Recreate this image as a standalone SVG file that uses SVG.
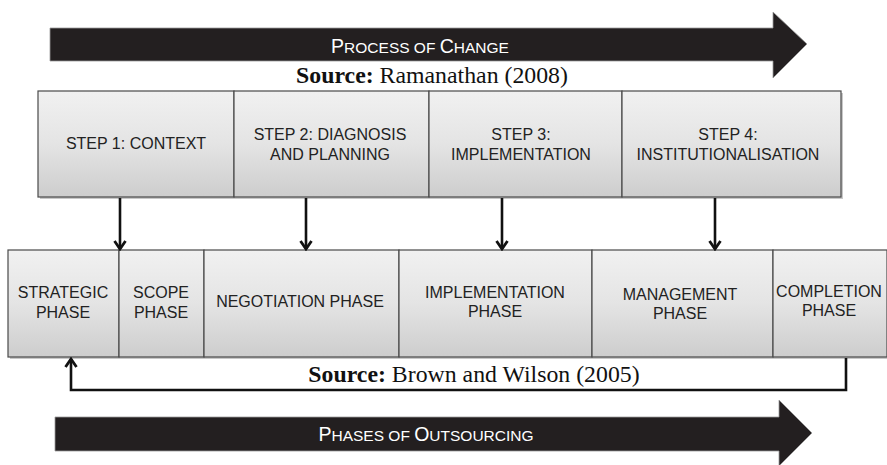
<svg xmlns="http://www.w3.org/2000/svg" width="887" height="465" viewBox="0 0 887 465">
<style>
.box{fill:url(#g);stroke:#4a4a4a;stroke-width:1.2}
.shadow{fill:#c8c8c8}
.lbl{font-family:"Liberation Sans",Arial,sans-serif;font-size:16px;fill:#222;text-anchor:middle}
.src{font-family:"Liberation Serif","Times New Roman",serif;font-size:23.8px;fill:#111;text-anchor:middle}
.big{fill:#231f20;stroke:#999;stroke-width:0.8}
.bt{font-family:"Liberation Sans",Arial,sans-serif;fill:#fff;text-anchor:middle;font-size:15.5px}
.conn{fill:none;stroke:#111;stroke-width:2.6}
</style>
<defs>
<linearGradient id="g" x1="0" y1="0" x2="0" y2="1">
<stop offset="0" stop-color="#f1f1f1"/>
<stop offset="0.5" stop-color="#e4e4e4"/>
<stop offset="1" stop-color="#cdcdcd"/>
</linearGradient>
<marker id="ah" markerWidth="14" markerHeight="14" viewBox="0 0 14 14" refX="12" refY="7" orient="auto" markerUnits="userSpaceOnUse">
<path d="M4,1.5 L12,7 L4,12.5" fill="none" stroke="#111" stroke-width="2.8"/>
</marker>
</defs>

<g id="process-arrow">
<path class="big" d="M50,28 L773,28 L773,12 L807,44 L773,78 L773,61 L50,61 Z"/>
<text class="bt" x="420" y="53"><tspan font-size="19.5">P</tspan>ROCESS OF <tspan font-size="19.5">C</tspan>HANGE</text>
</g>

<g id="source-ramanathan">
<text class="src" x="432" y="83"><tspan font-weight="bold">Source:</tspan> Ramanathan (2008)</text>
</g>

<g id="step1">
<rect class="shadow" x="40" y="93" width="196" height="106"/>
<rect class="box" x="38" y="91" width="196" height="106"/>
<text class="lbl" x="136" y="149">STEP 1: CONTEXT</text>
</g>
<g id="step2">
<rect class="shadow" x="236" y="93" width="195" height="106"/>
<rect class="box" x="234" y="91" width="195" height="106"/>
<text class="lbl" x="330" y="140">STEP 2: DIAGNOSIS</text>
<text class="lbl" x="330" y="160">AND PLANNING</text>
</g>
<g id="step3">
<rect class="shadow" x="431" y="93" width="193" height="106"/>
<rect class="box" x="429" y="91" width="193" height="106"/>
<text class="lbl" x="521" y="140">STEP 3:</text>
<text class="lbl" x="521" y="160">IMPLEMENTATION</text>
</g>
<g id="step4">
<rect class="shadow" x="624" y="93" width="219" height="106"/>
<rect class="box" x="622" y="91" width="219" height="106"/>
<text class="lbl" x="728" y="140">STEP 4:</text>
<text class="lbl" x="728" y="160">INSTITUTIONALISATION</text>
</g>

<g id="strategic">
<rect class="shadow" x="10" y="252" width="111" height="107"/>
<rect class="box" x="8" y="250" width="111" height="107"/>
<text class="lbl" x="63" y="298">STRATEGIC</text>
<text class="lbl" x="63" y="318">PHASE</text>
</g>
<g id="scope">
<rect class="shadow" x="121" y="252" width="85" height="107"/>
<rect class="box" x="119" y="250" width="85" height="107"/>
<text class="lbl" x="161" y="298">SCOPE</text>
<text class="lbl" x="161" y="318">PHASE</text>
</g>
<g id="negotiation">
<rect class="shadow" x="206" y="252" width="195" height="107"/>
<rect class="box" x="204" y="250" width="195" height="107"/>
<text class="lbl" x="300" y="307">NEGOTIATION PHASE</text>
</g>
<g id="implementation">
<rect class="shadow" x="401" y="252" width="193" height="107"/>
<rect class="box" x="399" y="250" width="193" height="107"/>
<text class="lbl" x="495" y="298">IMPLEMENTATION</text>
<text class="lbl" x="495" y="317">PHASE</text>
</g>
<g id="management">
<rect class="shadow" x="594" y="252" width="181" height="107"/>
<rect class="box" x="592" y="250" width="181" height="107"/>
<text class="lbl" x="680" y="300">MANAGEMENT</text>
<text class="lbl" x="680" y="319">PHASE</text>
</g>
<g id="completion">
<rect class="shadow" x="775" y="252" width="114" height="107"/>
<rect class="box" x="773" y="250" width="114" height="107"/>
<text class="lbl" x="829" y="297">COMPLETION</text>
<text class="lbl" x="829" y="316">PHASE</text>
</g>

<g id="connectors">
<line class="conn" x1="120" y1="198" x2="120" y2="249" marker-end="url(#ah)"/>
<line class="conn" x1="306" y1="198" x2="306" y2="249" marker-end="url(#ah)"/>
<line class="conn" x1="502" y1="198" x2="502" y2="249" marker-end="url(#ah)"/>
<line class="conn" x1="715" y1="198" x2="715" y2="249" marker-end="url(#ah)"/>
<polyline class="conn" points="846,358 846,390 71,390 71,359" marker-end="url(#ah)"/>
</g>

<g id="source-brown">
<text class="src" x="474" y="382"><tspan font-weight="bold">Source:</tspan> Brown and Wilson (2005)</text>
</g>

<g id="outsourcing-arrow">
<path class="big" d="M55,417 L779,417 L779,400 L812,433 L779,466 L779,451 L55,451 Z"/>
<text class="bt" x="426" y="441"><tspan font-size="19.5">P</tspan>HASES OF <tspan font-size="19.5">O</tspan>UTSOURCING</text>
</g>
</svg>
